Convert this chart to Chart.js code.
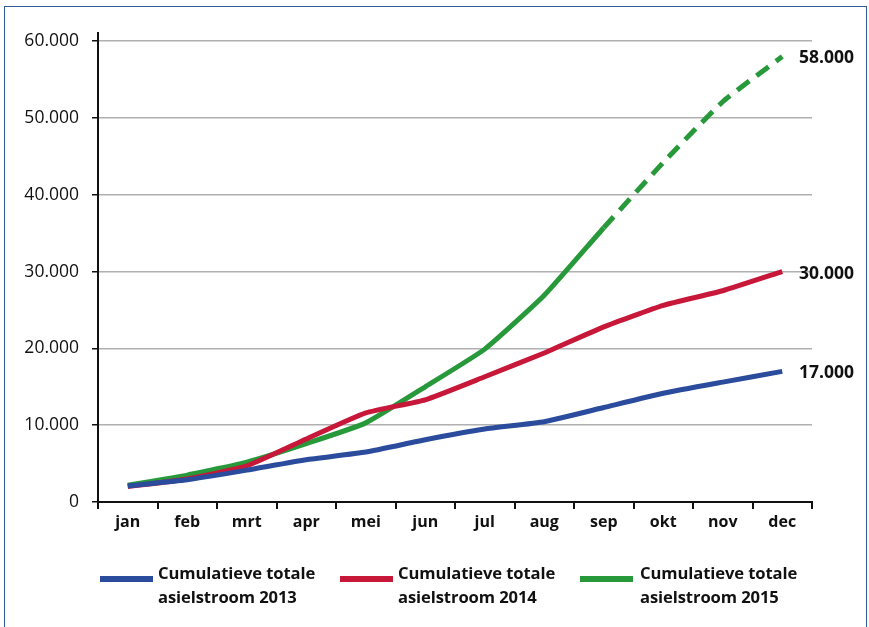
<!DOCTYPE html>
<html>
<head>
<meta charset="utf-8">
<script src="https://cdn.jsdelivr.net/npm/chart.js@4/dist/chart.umd.min.js"></script>
<style>
  html, body { margin: 0; padding: 0; background: #fff; }
  #wrap { position: relative; width: 869px; height: 627px; overflow: hidden; }
  #frame { position: absolute; left: 4px; top: 6px; width: 863px; height: 640px;
           border: 1.5px solid #2f5d98; box-sizing: border-box; }
  #chart { position: absolute; left: 0; top: 0; }
  .leg { position: absolute; top: 561px; font-family: "Open Sans", sans-serif; font-weight: 700;
         font-size: 16.6px; line-height: 24px; color: #111; letter-spacing: -0.1px; }
  .sw { position: absolute; top: 576px; width: 53px; height: 6px; }
</style>
</head>
<body>
<div id="wrap">
  <div id="frame"></div>
  <canvas id="chart" width="869" height="627"></canvas>
  <div class="sw" style="left:100px;background:#2b4c9c"></div>
  <div class="leg" style="left:158px">Cumulatieve totale<br>asielstroom 2013</div>
  <div class="sw" style="left:340px;background:#c8183a"></div>
  <div class="leg" style="left:398px">Cumulatieve totale<br>asielstroom 2014</div>
  <div class="sw" style="left:580px;background:#27993a"></div>
  <div class="leg" style="left:640px">Cumulatieve totale<br>asielstroom 2015</div>
</div>
<script>
// Months and cumulative asylum numbers
const months = ['jan', 'feb', 'mrt', 'apr', 'mei', 'jun', 'jul', 'aug', 'sep', 'okt', 'nov', 'dec'];
const values2013 = [2100, 2900, 4150, 5500, 6500, 8100, 9500, 10450, 12300, 14150, 15600, 17000];
const values2014 = [2000, 3000, 4700, 8200, 11600, 13300, 16300, 19400, 22800, 25600, 27500, 30000];
const values2015 = [2200, 3500, 5200, 7600, 10300, 15000, 19900, 26900, 35700, 44200, 52100, 58000];
const endLabels = ['17.000', '30.000', '58.000'];
const yTicks = [0, 10000, 20000, 30000, 40000, 50000, 60000];

const forecastFrom = 8; // green line is dashed from sep on

// Draws the end-of-line labels right of the plot
const endLabelPlugin = {
    id: 'endLabels',
    afterDatasetsDraw(chart) {
        const ctx = chart.ctx;
        ctx.save();
        ctx.font = 'bold 17.5px "Open Sans", sans-serif';
        ctx.fillStyle = '#111';
        ctx.textBaseline = 'middle';
        chart.data.datasets.forEach((ds, i) => {
            const meta = chart.getDatasetMeta(i);
            const pt = meta.data[meta.data.length - 1];
            ctx.fillText(endLabels[i], 799, pt.y + 2);
        });
        ctx.restore();
    }
};

function fmt(v) {
    return v === 0 ? '0' : v.toLocaleString('nl-NL');
}

const ctx = document.getElementById('chart').getContext('2d');
const chart = new Chart(ctx, {
    type: 'line',
    data: {
        labels: months,
        datasets: [
            { label: 'Cumulatieve totale asielstroom 2013', data: values2013, borderColor: '#2b4c9c' },
            { label: 'Cumulatieve totale asielstroom 2014', data: values2014, borderColor: '#c8183a' },
            {
                label: 'Cumulatieve totale asielstroom 2015', data: values2015, borderColor: '#27993a',
                segment: { borderDash: c => c.p0DataIndex >= forecastFrom ? [15, 9] : undefined }
            }
        ]
    },
    options: {
        responsive: false,
        animation: false,
        layout: { padding: { top: 33, right: 57, bottom: 95, left: 0 } },
        elements: {
            line: { borderWidth: 5, tension: 0.15, borderCapStyle: 'butt' },
            point: { radius: 0 }
        },
        scales: {
            x: {
                offset: true,
                grid: { offset: true, drawOnChartArea: false, tickLength: 7, color: '#111', lineWidth: 2 },
                border: { color: '#111', width: 2 },
                ticks: { color: '#111', padding: 4, font: { family: '"Open Sans", sans-serif', size: 16, weight: 'bold' } },
                afterFit(scale) { scale.height = 30; }
            },
            y: {
                min: 0,
                max: 61050,
                afterBuildTicks(scale) { scale.ticks = yTicks.map(v => ({ value: v })); },
                grid: { color: '#b0b0b0', lineWidth: 1.5, tickLength: 6, tickColor: '#111' },
                border: { color: '#111', width: 2 },
                ticks: { color: '#111', padding: 13, font: { family: '"Open Sans", sans-serif', size: 17.5 }, callback: v => fmt(v) },
                afterFit(scale) { scale.width = 98; }
            }
        },
        plugins: {
            legend: { display: false },
            tooltip: { enabled: false }
        }
    },
    plugins: [endLabelPlugin]
});
</script>
</body>
</html>
